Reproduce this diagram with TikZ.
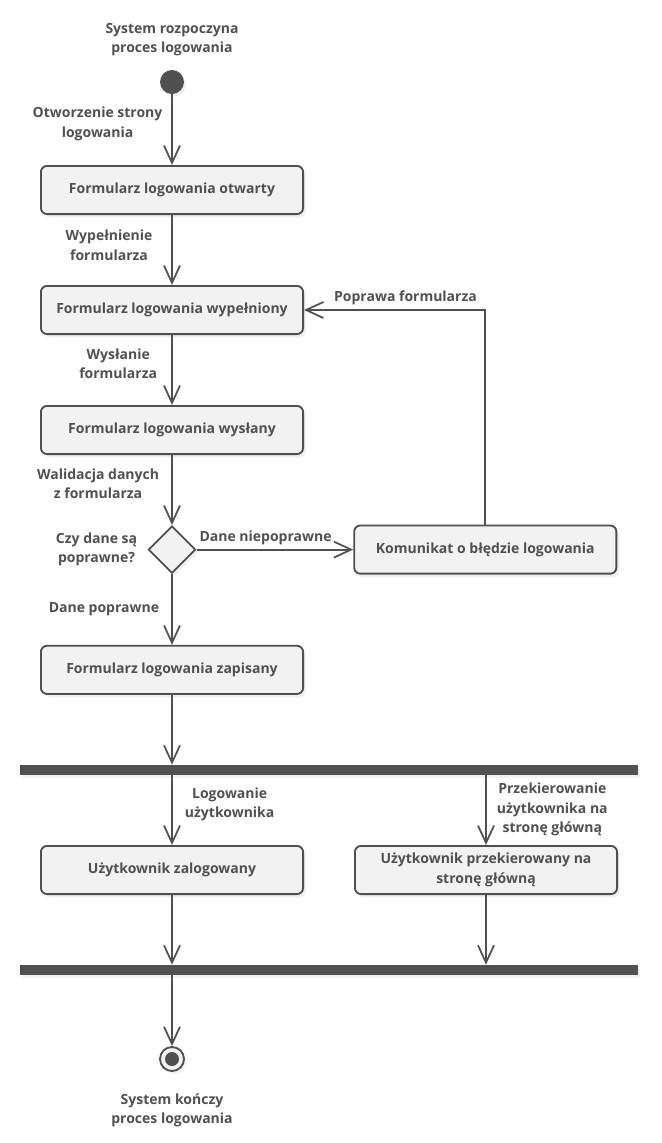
\documentclass[tikz,border=0pt]{standalone}
\usepackage{fontspec}
\setmainfont{Open Sans}
\usepackage{tikz}
\usetikzlibrary{positioning,arrows.meta,shapes.geometric,shadows}
\definecolor{ink}{HTML}{505050}
\definecolor{paper}{HTML}{F2F2F2}

\begin{document}
\begin{tikzpicture}[x=0.75pt, y=-0.75pt,
  lab/.style={text=ink, font=\bfseries\fontsize{10.5}{14.6}\selectfont, align=center, inner sep=0pt},
  act/.style={lab, draw=ink, line width=1.4pt, rounded corners=4.5pt, fill=paper,
              minimum width=196.6pt, minimum height=36.1pt,
              drop shadow={shadow xshift=2pt, shadow yshift=-2.5pt, opacity=0.12}},
  dec/.style={diamond, draw=ink, line width=1.4pt, fill=paper, aspect=1, inner sep=0pt,
              minimum width=35.5pt, minimum height=35.5pt,
              drop shadow={shadow xshift=2pt, shadow yshift=-2.5pt, opacity=0.12}},
  bar/.style={fill=ink, inner sep=0pt, minimum width=463.5pt, minimum height=7.5pt,
              drop shadow={shadow xshift=1.5pt, shadow yshift=-2.5pt, opacity=0.10}},
  arr/.style={-{Straight Barb[length=13pt, width=12pt, line width=1.3pt]}, line width=1.4pt, draw=ink}
]
  \useasboundingbox (0,0) rectangle (661,1143);

  % start
  \node[circle, fill=ink, minimum size=18pt, inner sep=0pt,
        drop shadow={shadow xshift=1.5pt, shadow yshift=-2pt, opacity=0.12}] (start) at (172,82) {};
  \node[lab, above=10pt of start] (startlab) {System rozpoczyna\\proces logowania};

  % main column
  \node[act] (f1) at (172,190) {Formularz logowania otwarty};
  \node[act, below=52.5pt of f1] (f2) {Formularz logowania wypełniony};
  \node[act, below=52.5pt of f2] (f3) {Formularz logowania wysłany};
  \node[dec, below=52.5pt of f3] (dec) {};
  \node[act, below=53pt of dec] (f4) {Formularz logowania zapisany};
  \node[act, right=117.5pt of dec] (err) {Komunikat o błędzie logowania};
  \node[lab, left=7.5pt of dec] (declab) {Czy dane są\\poprawne?};

  % fork / join
  \node[bar] (fork) at (329,770) {};
  \node[act] (u1) at (172,870) {Użytkownik zalogowany};
  \node[act] (u2) at (486,870) {Użytkownik przekierowany na\\stronę główną};
  \node[bar] (join) at (329,970) {};

  % end
  \node[circle, draw=ink, line width=1.4pt, fill=paper, minimum size=18pt, inner sep=0pt,
        drop shadow={shadow xshift=1.5pt, shadow yshift=-2pt, opacity=0.12}] (stop) at (172,1059) {};
  \fill[ink] (stop.center) circle (7);
  \node[lab, below=16pt of stop] (stoplab) {System kończy\\proces logowania};

  % transitions
  \draw[arr] (start) -- node[lab, pos=0.42, left=6.5pt] {Otworzenie strony\\logowania} (f1);
  \draw[arr] (f1) -- node[lab, pos=0.43, left=14pt] {Wypełnienie\\formularza} (f2);
  \draw[arr] (f2) -- node[lab, pos=0.41, left=10.5pt] {Wysłanie\\formularza} (f3);
  \draw[arr] (f3) -- node[lab, pos=0.41, left=9pt] {Walidacja danych\\z formularza} (dec);
  \draw[arr] (dec) -- node[lab, pos=0.5, left=9pt] {Dane poprawne} (f4);
  \draw[arr] (dec) -- node[lab, pos=0.44, above=3pt] {Dane niepoprawne} (err);
  \draw[arr] (err.north) |- node[lab, pos=0.72, above=3pt] {Poprawa formularza} (f2.east);
  \draw[arr] (f4) -- (f4 |- fork.north);
  \draw[arr] (fork.south -| u1) -- node[lab, pos=0.42, right=9pt] {Logowanie\\użytkownika} (u1);
  \draw[arr] (fork.south -| u2) -- node[lab, pos=0.49, right=7.5pt] {Przekierowanie\\użytkownika na\\stronę główną} (u2);
  \draw[arr] (u1) -- (u1 |- join.north);
  \draw[arr] (u2) -- (u2 |- join.north);
  \draw[arr] (join.south -| stop) -- (stop);
\end{tikzpicture}
\end{document}
